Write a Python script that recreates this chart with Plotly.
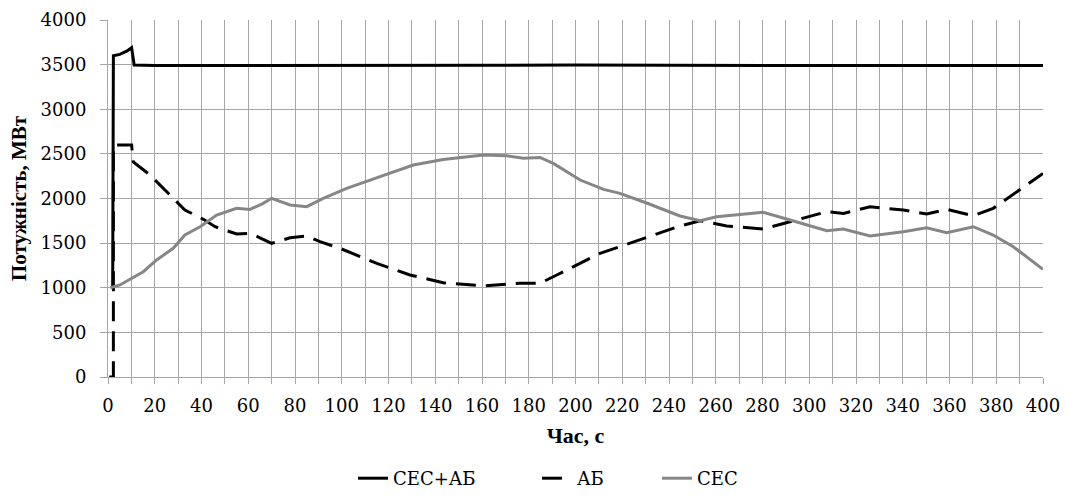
import plotly.graph_objects as go

# СЕС+АБ (total)
t_total = [2.0, 2.3, 5, 8, 10.1, 11.2, 20, 100, 200, 300, 400]
p_total = [1000, 3600, 3615, 3650, 3690, 3495, 3490, 3495, 3495, 3490, 3490]

# АБ (battery)
t_ab = [0.5, 2.3, 2.31, 10.1, 10.8, 18, 27.9, 32.9, 40.8, 45.8, 55, 60.7, 65, 70, 77.9, 85,
        90.7, 99.3, 115, 129.2, 143.4, 160.6, 176.3, 184.8, 192, 202, 210.5, 219, 230.5,
        244.7, 253.3, 264.7, 280.3, 291.8, 307.5, 314.6, 326, 340.2, 350.2, 358.8, 370.2,
        378.7, 391.6, 400]
p_ab = [0, 0, 2600, 2600, 2410, 2263, 2002, 1871, 1767, 1684, 1602, 1610, 1560, 1498, 1560, 1580,
        1516, 1441, 1274, 1143, 1057, 1020, 1050, 1050, 1143, 1274, 1386, 1460, 1565,
        1692, 1751, 1692, 1658, 1740, 1852, 1833, 1908, 1871, 1826, 1878, 1807,
        1890, 2132, 2280]

# СЕС (solar)
t_sec = [1, 5.1, 15.1, 20.8, 27.9, 32.9, 39.4, 46.5, 55, 60.7, 66, 70, 77.9, 85, 92.1, 102.1,
         116.4, 130.6, 143.4, 160.6, 170.6, 177.7, 184.8, 190.5, 202, 212, 219, 231,
         244.7, 253.3, 260.4, 280.3, 291.8, 307.5, 314.6, 326, 340.2, 350.2, 358.8, 370.2,
         378.7, 387.3, 400]
p_sec = [1000, 1031, 1180, 1311, 1442, 1591, 1684, 1815, 1890, 1878, 1940, 2002, 1927, 1908, 2002, 2114,
         2245, 2375, 2438, 2487, 2479, 2450, 2460, 2393, 2207, 2102, 2057, 1944,
         1804, 1751, 1796, 1845, 1759, 1639, 1658, 1580, 1628, 1673, 1617, 1684,
         1591, 1460, 1207]

x_ticks = list(range(0, 401, 20))
y_ticks = list(range(0, 4001, 500))

tick_font = "DejaVu Serif"
title_font = "Liberation Serif"

fig = go.Figure()
fig.add_trace(go.Scatter(x=t_total, y=p_total, mode="lines", name="СЕС+АБ", legendwidth=139,
                         line=dict(color="#000000", width=3)))
fig.add_trace(go.Scatter(x=t_ab, y=p_ab, mode="lines", name="АБ", legendwidth=75,
                         line=dict(color="#000000", width=3, dash="20px,10px")))
fig.add_trace(go.Scatter(x=t_sec, y=p_sec, mode="lines", name="СЕС", legendwidth=55,
                         line=dict(color="#868686", width=3)))

fig.update_layout(
    width=1067, height=497,
    margin=dict(l=108, r=24, t=20, b=120),
    paper_bgcolor="white", plot_bgcolor="white",
    font=dict(family=tick_font, size=18, color="#000000"),
    showlegend=True,
    legend=dict(orientation="h", x=0.262, xanchor="left",
                yref="container", y=-0.012, yanchor="bottom",
                font=dict(family=tick_font, size=18),
                bgcolor="rgba(0,0,0,0)"),
)
fig.update_xaxes(
    range=[0, 400], tickvals=x_ticks, ticktext=[str(v) for v in x_ticks],
    automargin=False,
    showgrid=True, gridcolor="#a6a6a6", gridwidth=1,
    minor=dict(dtick=10, tick0=0, showgrid=True, gridcolor="#a6a6a6", gridwidth=1,
               ticks="outside", ticklen=6, tickcolor="#a6a6a6"),
    ticks="outside", ticklen=6, tickcolor="#a6a6a6",
    showline=True, linecolor="#a6a6a6", linewidth=1, mirror=False,
    zeroline=False,
    tickfont=dict(family=tick_font, size=18),
    ticklabelstandoff=6,
    title=dict(text="<b>Час, с</b>", font=dict(family=title_font, size=22), standoff=13),
)
fig.update_yaxes(
    range=[0, 4000], tickvals=y_ticks, ticktext=[str(v) for v in y_ticks],
    automargin=False,
    showgrid=True, gridcolor="#a6a6a6", gridwidth=1,
    ticks="outside", ticklen=7, tickcolor="#a6a6a6",
    showline=True, linecolor="#a6a6a6", linewidth=1,
    zeroline=False,
    tickfont=dict(family=tick_font, size=18),
    ticklabelstandoff=10,
    title=dict(text="<b>Потужність, МВт</b>", font=dict(family=title_font, size=21), standoff=8),
)

fig.write_html("out.html", config={"displayModeBar": False},
               post_script="document.body.style.margin='0px';")
